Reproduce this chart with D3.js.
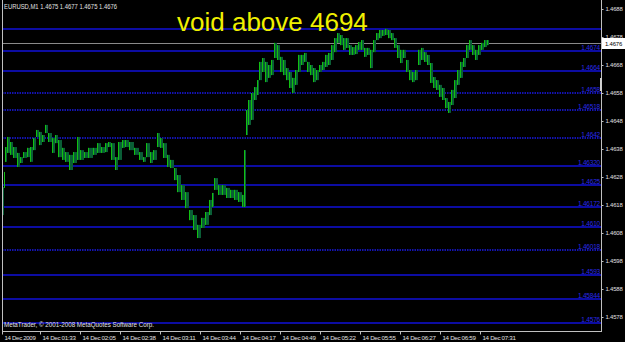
<!DOCTYPE html>
<html>
<head>
<meta charset="utf-8">
<script src="https://cdn.jsdelivr.net/npm/d3@7"></script>
<style>
  body { margin: 0; background: #000; }
  svg { display: block; }
</style>
</head>
<body>
<div id="container"></div>
<script>
// EURUSD M1, 14 Dec 2009
const barSlot = [2, 4, 5, 7, 10, 13, 17, 20, 23, 27, 30, 33, 36, 39, 42, 45, 48, 52, 55, 58,
  62, 65, 69, 73, 77, 80, 84, 88, 93, 97, 101, 105, 108, 111, 115, 118, 122, 125, 129, 134,
  139, 143, 146, 150, 153, 157, 160, 163, 167, 170, 174, 177, 181, 185, 189, 193, 197, 201, 205, 209,
  212, 214, 218, 222, 226, 230, 234, 238, 242, 244, 246, 248, 251, 254, 257, 259, 262, 265, 268, 271,
  274, 277, 280, 283, 286, 289, 292, 295, 298, 301, 304, 307, 310, 313, 316, 319, 322, 325, 328, 331,
  334, 337, 340, 343, 346, 349, 352, 355, 358, 361, 364, 367, 370, 373, 376, 379, 382, 385, 388, 391,
  394, 397, 400, 403, 406, 409, 412, 415, 418, 421, 424, 427, 430, 433, 436, 439, 442, 445, 448, 451,
  454, 457, 460, 463, 466, 469, 472, 475, 478, 481, 484, 487]

const barHigh = [1.46244, 1.46298, 1.46387, 1.46423, 1.46405, 1.46387, 1.46366, 1.46351, 1.46369, 1.46384, 1.46387, 1.46419, 1.46448, 1.46441, 1.46430, 1.46466, 1.46437, 1.46419, 1.46430, 1.46412,
  1.46384, 1.46369, 1.46359, 1.46369, 1.46423, 1.46376, 1.46369, 1.46384, 1.46384, 1.46401, 1.46387, 1.46401, 1.46405, 1.46401, 1.46351, 1.46405, 1.46412, 1.46412, 1.46405, 1.46384,
  1.46369, 1.46351, 1.46401, 1.46369, 1.46376, 1.46437, 1.46419, 1.46401, 1.46359, 1.46341, 1.46312, 1.46287, 1.46251, 1.46226, 1.46162, 1.46144, 1.46109, 1.46134, 1.46155, 1.46198,
  1.46223, 1.46276, 1.46251, 1.46251, 1.46241, 1.46234, 1.46234, 1.46226, 1.46216, 1.46376, 1.46519, 1.46555, 1.46580, 1.46601, 1.46626, 1.46691, 1.46705, 1.46691, 1.46680, 1.46698,
  1.46759, 1.46751, 1.46709, 1.46698, 1.46669, 1.46655, 1.46634, 1.46662, 1.46716, 1.46716, 1.46723, 1.46691, 1.46680, 1.46669, 1.46662, 1.46680, 1.46691, 1.46716, 1.46723, 1.46751,
  1.46776, 1.46794, 1.46787, 1.46776, 1.46776, 1.46751, 1.46744, 1.46751, 1.46762, 1.46769, 1.46741, 1.46741, 1.46734, 1.46769, 1.46794, 1.46805, 1.46805, 1.46809, 1.46805, 1.46794,
  1.46776, 1.46751, 1.46734, 1.46734, 1.46698, 1.46662, 1.46655, 1.46662, 1.46734, 1.46741, 1.46726, 1.46716, 1.46687, 1.46637, 1.46626, 1.46609, 1.46598, 1.46562, 1.46548, 1.46591,
  1.46626, 1.46662, 1.46691, 1.46705, 1.46751, 1.46769, 1.46751, 1.46734, 1.46751, 1.46759, 1.46769, 1.46769]

const barLow = [1.46144, 1.46241, 1.46334, 1.46366, 1.46359, 1.46348, 1.46316, 1.46330, 1.46348, 1.46351, 1.46334, 1.46376, 1.46423, 1.46394, 1.46405, 1.46437, 1.46405, 1.46366, 1.46401, 1.46351,
  1.46341, 1.46334, 1.46305, 1.46330, 1.46341, 1.46341, 1.46348, 1.46348, 1.46359, 1.46366, 1.46366, 1.46369, 1.46387, 1.46341, 1.46305, 1.46341, 1.46384, 1.46387, 1.46376, 1.46359,
  1.46341, 1.46334, 1.46351, 1.46330, 1.46341, 1.46387, 1.46384, 1.46348, 1.46316, 1.46312, 1.46269, 1.46226, 1.46198, 1.46169, 1.46126, 1.46091, 1.46062, 1.46098, 1.46109, 1.46144,
  1.46173, 1.46234, 1.46216, 1.46216, 1.46205, 1.46205, 1.46198, 1.46191, 1.46173, 1.46173, 1.46430, 1.46466, 1.46484, 1.46555, 1.46573, 1.46626, 1.46655, 1.46619, 1.46634, 1.46644,
  1.46705, 1.46698, 1.46655, 1.46644, 1.46626, 1.46598, 1.46580, 1.46609, 1.46655, 1.46680, 1.46691, 1.46655, 1.46644, 1.46619, 1.46626, 1.46655, 1.46662, 1.46673, 1.46680, 1.46698,
  1.46726, 1.46759, 1.46751, 1.46734, 1.46741, 1.46716, 1.46716, 1.46719, 1.46734, 1.46734, 1.46709, 1.46716, 1.46669, 1.46726, 1.46769, 1.46776, 1.46784, 1.46787, 1.46776, 1.46769,
  1.46741, 1.46705, 1.46687, 1.46705, 1.46655, 1.46626, 1.46619, 1.46626, 1.46680, 1.46698, 1.46691, 1.46680, 1.46616, 1.46598, 1.46591, 1.46566, 1.46555, 1.46526, 1.46509, 1.46537,
  1.46562, 1.46609, 1.46634, 1.46673, 1.46705, 1.46734, 1.46716, 1.46698, 1.46716, 1.46734, 1.46744, 1.46751]

// horizontal levels drawn on the chart
const levelPrice = [1.4681, 1.4673, 1.4666, 1.4658, 1.46518, 1.4642, 1.4632, 1.4625, 1.46172, 1.4610, 1.46018, 1.4593, 1.45844, 1.4576]
const levelLabel = ['', '1.4674', '1.4664', '1.4658', '1.46518', '1.4642', '1.46320', '1.4625', '1.46172', '1.4610', '1.46018', '1.4593', '1.45844', '1.4576']
const levelDotted = [false, false, false, true, true, true, false, false, false, false, true, false, false, false]

const priceTicks = [1.4688, 1.4678, 1.4668, 1.4658, 1.4648, 1.4638, 1.4628, 1.4618, 1.4608, 1.4598, 1.4588, 1.4578]
const timeSlots = [2, 40, 80, 120, 160, 200, 240, 280, 320, 360, 400, 440, 480]
const timeLabels = ['14 Dec 2009', '14 Dec 01:33', '14 Dec 02:05', '14 Dec 02:38', '14 Dec 03:11', '14 Dec 03:44',
  '14 Dec 04:17', '14 Dec 04:49', '14 Dec 05:22', '14 Dec 05:55', '14 Dec 06:27', '14 Dec 06:59', '14 Dec 07:31']

const lastPrice = 1.4676
const headerText = 'EURUSD,M1  1.4675 1.4677 1.4675 1.4676'
const noteText = 'void above 4694'

const w = 625
const h = 342
const left = 2
const right = 601
const bottom = 331
const smallFont = '6px "Liberation Sans", Arial, sans-serif'

const svg = d3.select('#container')
              .append('svg')
              .attr('width', w)
              .attr('height', h)
              .style('background', '#000')

const xScale = d3.scaleLinear().domain([0, 600]).range([0, 600])
const yScale = d3.scaleLinear().domain([1.4578, 1.4688]).range([317, 9])
const py = p => Math.round(yScale(p)) + 0.5

// levels
svg.selectAll('line.level')
   .data(levelPrice)
   .enter()
   .append('line')
   .attr('class', 'level')
   .attr('x1', left)
   .attr('x2', right)
   .attr('y1', d => Math.round(yScale(d)))
   .attr('y2', d => Math.round(yScale(d)))
   .attr('stroke', (d, i) => levelDotted[i] ? '#1a1ae6' : '#1010d8')
   .attr('stroke-width', 1.5)
   .attr('stroke-dasharray', (d, i) => levelDotted[i] ? '1.5,1' : null)

svg.selectAll('text.levelLabel')
   .data(levelPrice)
   .enter()
   .append('text')
   .attr('class', 'levelLabel')
   .attr('x', right - 1)
   .attr('y', d => Math.round(yScale(d)) - 1.5)
   .attr('text-anchor', 'end')
   .attr('fill', '#2a2ae8')
   .style('font', '6.5px "Liberation Sans", Arial, sans-serif')
   .style('letter-spacing', '-0.2px')
   .text((d, i) => levelLabel[i])

// current price line
svg.append('line')
   .attr('x1', left)
   .attr('x2', right)
   .attr('y1', py(lastPrice))
   .attr('y2', py(lastPrice))
   .attr('stroke', '#8a8a8a')
   .attr('shape-rendering', 'crispEdges')

// bars
const bars = barSlot.map((s, i) => ({
  slot: s,
  next: i < barSlot.length - 1 ? barSlot[i + 1] : s + 2,
  hi: barHigh[i],
  lo: barLow[i]
}))

svg.selectAll('rect.bar')
   .data(bars)
   .enter()
   .append('rect')
   .attr('class', 'bar')
   .attr('x', d => xScale(d.slot))
   .attr('width', d => Math.max(1, xScale(d.next) - xScale(d.slot)))
   .attr('y', d => yScale(d.hi))
   .attr('height', d => Math.max(2, yScale(d.lo) - yScale(d.hi)))
   .attr('fill', '#0a5e36')

svg.selectAll('line.bar')
   .data(bars)
   .enter()
   .append('line')
   .attr('class', 'bar')
   .attr('x1', d => Math.round(xScale(d.slot)) + 0.5)
   .attr('x2', d => Math.round(xScale(d.slot)) + 0.5)
   .attr('y1', d => yScale(d.hi))
   .attr('y2', d => yScale(d.lo))
   .attr('stroke', '#12c012')

// frame
svg.append('path')
   .attr('d', `M${left + 0.5},0V${bottom + 0.5}H${right + 0.5}V0`)
   .attr('fill', 'none')
   .attr('stroke', '#c0c0c0')
   .attr('shape-rendering', 'crispEdges')

// right price axis
const yAxis = d3.axisRight(yScale)
                .tickValues(priceTicks)
                .tickFormat(d3.format('.4f'))
                .tickSize(2)
                .tickPadding(2)
const gy = svg.append('g')
   .attr('transform', `translate(${right + 0.5}, 0)`)
   .call(yAxis)
gy.select('.domain').remove()
gy.selectAll('line').attr('stroke', '#c0c0c0')
gy.selectAll('text')
  .attr('fill', '#e0e0e0')
  .attr('textLength', 17)
  .attr('lengthAdjust', 'spacingAndGlyphs')
  .style('font', smallFont)
  .style('letter-spacing', '-0.2px')

// bottom time axis
const xAxis = d3.axisBottom(xScale)
                .tickValues(timeSlots)
                .tickFormat((d, i) => timeLabels[i])
                .tickSize(3)
                .tickPadding(1)
const gx = svg.append('g')
   .attr('transform', `translate(0, ${bottom + 0.5})`)
   .call(xAxis)
gx.select('.domain').remove()
gx.selectAll('line').attr('stroke', '#c0c0c0')
gx.selectAll('text')
  .attr('text-anchor', 'start')
  .attr('x', 2)
  .attr('fill', '#e0e0e0')
  .attr('textLength', (d, i) => i === 0 ? 31 : 33)
  .attr('lengthAdjust', 'spacingAndGlyphs')
  .style('font', smallFont)
  .style('letter-spacing', '-0.3px')

// last price box
const ly = Math.round(yScale(lastPrice))
svg.append('rect')
   .attr('x', right + 1)
   .attr('y', ly - 5)
   .attr('width', 23)
   .attr('height', 11)
   .attr('fill', '#ffffff')
svg.append('text')
   .attr('x', right + 4)
   .attr('y', ly + 3)
   .attr('fill', '#000')
   .attr('textLength', 17)
   .attr('lengthAdjust', 'spacingAndGlyphs')
   .style('font', smallFont)
   .style('letter-spacing', '-0.2px')
   .text(d3.format('.4f')(lastPrice))

// shift marker on the right edge
svg.append('rect')
   .attr('x', right - 1)
   .attr('y', 78)
   .attr('width', 2)
   .attr('height', 13)
   .attr('fill', '#d0d0d0')

// texts
svg.append('text')
   .attr('x', 4)
   .attr('y', 9)
   .attr('fill', '#e0e0e0')
   .attr('textLength', 113)
   .attr('lengthAdjust', 'spacingAndGlyphs')
   .style('font', '6.5px "Liberation Sans", Arial, sans-serif')
   .text(headerText)

svg.append('text')
   .attr('x', 4)
   .attr('y', 327)
   .attr('fill', '#e0e0e0')
   .attr('textLength', 150)
   .attr('lengthAdjust', 'spacingAndGlyphs')
   .style('font', '6.5px "Liberation Sans", Arial, sans-serif')
   .text('MetaTrader, © 2001-2008 MetaQuotes Software Corp.')

svg.append('text')
   .attr('x', 177)
   .attr('y', 31)
   .attr('fill', '#f0f000')
   .style('font', '26px "Liberation Sans", Arial, sans-serif')
   .text(noteText)
</script>
</body>
</html>
